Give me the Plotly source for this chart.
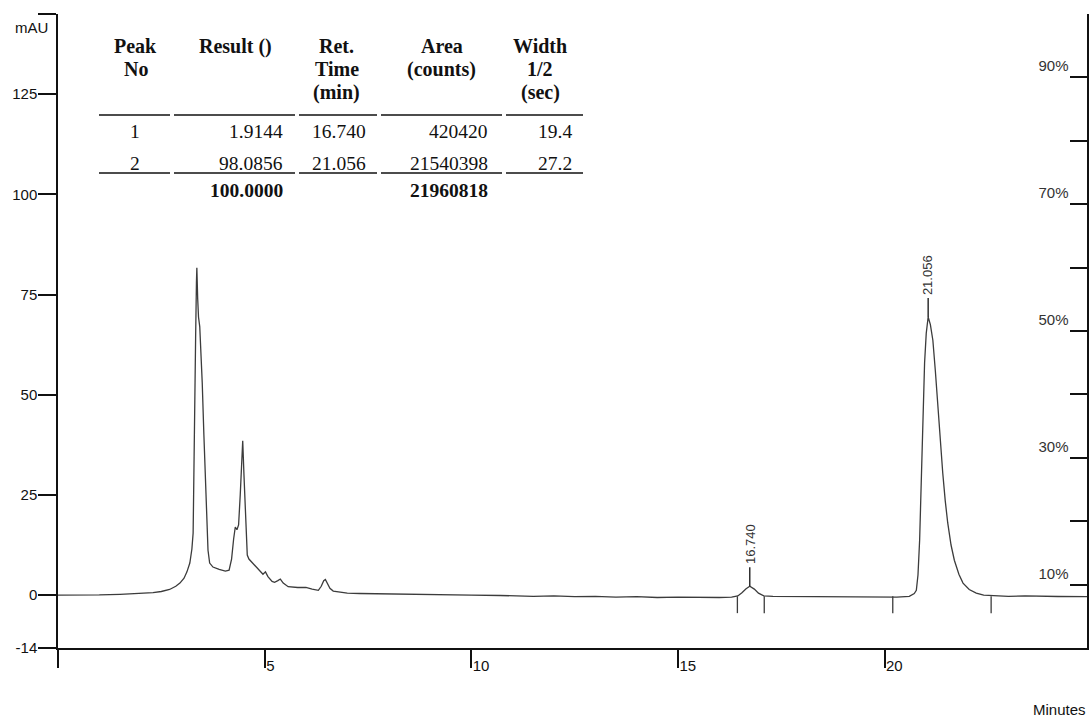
import plotly.graph_objects as go

# ---------------- data ----------------
time_min = [
    0.0, 0.5, 1.0, 1.5, 2.0, 2.3, 2.5, 2.7, 2.85, 2.95, 3.05, 3.12, 3.19, 3.24, 3.27,
    3.29, 3.31, 3.33, 3.35, 3.36, 3.38, 3.40, 3.43, 3.46, 3.49, 3.53, 3.57, 3.60, 3.63,
    3.67, 3.75, 3.9, 4.05, 4.14, 4.2, 4.25, 4.29, 4.33, 4.37, 4.41, 4.45, 4.47, 4.50,
    4.54, 4.58, 4.62, 4.75, 4.88, 4.96, 5.02, 5.08, 5.18, 5.24, 5.32, 5.38, 5.45, 5.57,
    5.8, 6.0, 6.15, 6.3, 6.37, 6.43, 6.47, 6.52, 6.58, 6.66, 6.82, 7.0, 7.3, 8.0, 9.0,
    10.0, 10.7, 11.5, 12.0, 12.5, 13.0, 13.5, 14.0, 14.5, 15.0, 15.5, 16.0, 16.3, 16.45,
    16.55, 16.65, 16.74, 16.85, 16.95, 17.08, 17.3, 17.7, 18.5, 19.5, 20.3, 20.6, 20.72,
    20.77, 20.81, 20.85, 20.89, 20.93, 20.97, 21.01, 21.056, 21.11, 21.17, 21.23, 21.29,
    21.35, 21.41, 21.47, 21.53, 21.61, 21.69, 21.80, 21.90, 22.05, 22.22, 22.4, 22.7,
    23.0, 23.4, 23.8, 24.2, 24.9,
]
signal_mau = [
    0.0, 0.0, 0.05, 0.2, 0.4, 0.6, 0.9, 1.4, 2.2, 3.0, 4.2, 5.8, 8.0, 11.5, 15.5,
    28.0, 46.0, 64.0, 78.0, 81.7, 74.0, 69.4, 67.0, 61.0, 53.0, 40.0, 28.0, 19.0, 11.2,
    8.0, 7.0, 6.4, 6.0, 6.2, 9.0, 14.0, 17.0, 16.3, 17.5, 25.0, 36.0, 38.5, 30.0,
    18.0, 10.0, 9.0, 7.5, 6.0, 5.2, 5.8, 4.6, 3.4, 3.2, 3.6, 4.0, 3.0, 2.1,
    1.9, 1.9, 1.5, 1.2, 2.2, 3.6, 3.9, 3.0, 1.7, 1.0, 0.8, 0.5, 0.4, 0.25, 0.1,
    0.0, -0.1, -0.3, -0.2, -0.4, -0.3, -0.5, -0.4, -0.6, -0.5, -0.6, -0.6, -0.5, -0.2,
    0.6, 1.6, 2.2, 1.5, 0.5, -0.2, -0.3, -0.35, -0.4, -0.5, -0.5, -0.3, 0.4,
    1.2, 5.0, 13.7, 28.0, 47.0, 58.0, 65.3, 69.4, 67.5, 63.6, 56.0, 47.0,
    38.5, 30.4, 23.5, 18.0, 12.5, 8.7, 5.2, 3.0, 1.4, 0.5, 0.0, -0.2,
    -0.3, -0.2, -0.35, -0.35, -0.4,
]

peak_rt = [16.740, 21.056]
peak_apex = [2.2, 69.4]
peak_labels = ["16.740", "21.056"]
event_times = [16.44, 17.09, 20.20, 22.58]

x_tick_vals = [0, 5, 10, 15, 20, 24.89]
x_tick_text = ["", "5", "10", "15", "20", ""]
y_tick_vals = [-13.2, 0, 25, 50, 75, 100, 125, 145]
y_tick_text = ["-14", "0", "25", "50", "75", "100", "125", ""]
pct_tick_vals = [10, 20, 30, 40, 50, 60, 70, 80, 90, 100]
pct_tick_text = ["10%", "", "30%", "", "50%", "", "70%", "", "90%", ""]

# results table
header_lines = [["Peak", "No"], ["Result ()"], ["Ret.", "Time", "(min)"],
                ["Area", "(counts)"], ["Width", "1/2", "(sec)"]]
peak_no = ["1", "2"]
result_pct = ["1.9144", "98.0856"]
ret_time = ["16.740", "21.056"]
area_counts = ["420420", "21540398"]
width_half = ["19.4", "27.2"]
total_result = "100.0000"
total_area = "21960818"

# ---------------- layout helpers ----------------
W, H = 1089, 717
PL, PR, PT, PB = 58, 1087, 14, 648


def fx(px):
    return (px - PL) / (PR - PL)


def fy(py):
    return (PB - py) / (PB - PT)


INK = "#111111"
TRACE = "#3c3c3c"

fig = go.Figure()
fig.add_trace(go.Scatter(x=time_min, y=signal_mau, mode="lines",
                         line=dict(color=TRACE, width=1.3), hoverinfo="skip",
                         showlegend=False))
fig.add_trace(go.Scatter(x=[], y=[], yaxis="y2", showlegend=False, hoverinfo="skip"))

shapes = []
annotations = []

# integration event marks
for t in event_times:
    shapes.append(dict(type="line", xref="x", yref="y", x0=t, x1=t, y0=-0.3, y1=-4.5,
                       line=dict(color=TRACE, width=1.3)))

# peak apex markers and labels
for t, h, lab in zip(peak_rt, peak_apex, peak_labels):
    shapes.append(dict(type="line", xref="x", yref="y", x0=t, x1=t,
                       ysizemode="pixel", yanchor=h, y0=0, y1=19,
                       line=dict(color=INK, width=1.3)))
    annotations.append(dict(x=t, y=h, xref="x", yref="y", text=lab, showarrow=False,
                            textangle=-90, xanchor="center", yanchor="bottom", yshift=20,
                            font=dict(family="Liberation Sans", size=13, color="#333333")))

# axis captions
annotations.append(dict(x=fx(12.5), y=fy(28), xref="paper", yref="paper", text="mAU",
                        showarrow=False, xanchor="left", yanchor="middle",
                        font=dict(family="Liberation Sans", size=15, color=INK)))
annotations.append(dict(x=fx(1088), y=fy(709), xref="paper", yref="paper", text="Minutes",
                        showarrow=False, xanchor="right", yanchor="middle",
                        font=dict(family="Liberation Sans", size=15, color=INK)))

# table
serif = "Liberation Serif"
tfs = 19.5
hfs = 20
header_cx = [135.5, 235, 336.7, 441.5, 540]
header_row_y = [46, 69, 92]
for lines, cx in zip(header_lines, header_cx):
    for k, txt in enumerate(lines):
        annotations.append(dict(x=fx(cx), y=fy(header_row_y[k]), xref="paper", yref="paper",
                                text="<b>" + txt + "</b>", showarrow=False,
                                xanchor="center", yanchor="middle",
                                font=dict(family=serif, size=hfs, color=INK)))

seg = [(99, 170), (174, 295), (299, 377), (381, 502), (506, 583)]
for ly in (115, 173):
    for a, b in seg:
        shapes.append(dict(type="line", xref="paper", yref="paper", x0=fx(a), x1=fx(b),
                           y0=fy(ly), y1=fy(ly), line=dict(color=INK, width=1.5)))

row_y = [131.7, 163.3]
col_right = [285, 367.5, 490, 574]
for i, ry in enumerate(row_y):
    annotations.append(dict(x=fx(135), y=fy(ry), xref="paper", yref="paper", text=peak_no[i],
                            showarrow=False, xanchor="center", yanchor="middle",
                            font=dict(family=serif, size=tfs, color=INK)))
    for val, rx in zip([result_pct[i], ret_time[i], area_counts[i], width_half[i]], col_right):
        annotations.append(dict(x=fx(rx), y=fy(ry), xref="paper", yref="paper", text=val,
                                showarrow=False, xanchor="right", yanchor="middle",
                                font=dict(family=serif, size=tfs, color=INK)))
for val, rx in zip([total_result, total_area], [col_right[0], col_right[2]]):
    annotations.append(dict(x=fx(rx), y=fy(190), xref="paper", yref="paper",
                            text="<b>" + val + "</b>", showarrow=False, xanchor="right",
                            yanchor="middle", font=dict(family=serif, size=tfs, color=INK)))

axis_common = dict(showgrid=False, zeroline=False, showline=True, linecolor=INK, linewidth=1.5,
                   tickcolor=INK, tickwidth=1.5)
tick_font = dict(family="Liberation Sans", size=15, color=INK)

fig.update_layout(
    width=W, height=H,
    margin=dict(l=PL, r=W - PR, t=PT, b=H - PB, pad=0),
    paper_bgcolor="white", plot_bgcolor="white",
    showlegend=False,
    xaxis=dict(range=[0, 24.9], tickmode="array", tickvals=x_tick_vals, ticktext=x_tick_text,
               ticks="outside", ticklen=18, ticklabelposition="outside right",
               ticklabelstandoff=3, tickfont=tick_font, **axis_common),
    yaxis=dict(range=[-13.2, 145], tickmode="array", tickvals=y_tick_vals, ticktext=y_tick_text,
               ticks="outside", ticklen=18, ticklabelstandoff=-2, tickfont=tick_font,
               **axis_common),
    yaxis2=dict(range=[0, 100], overlaying="y", side="right", anchor="x",
                tickmode="array", tickvals=pct_tick_vals, ticktext=pct_tick_text,
                ticks="inside", ticklen=17, ticklabelposition="inside top",
                ticklabelstandoff=18,
                tickfont=dict(family="Liberation Sans", size=15, color="#333333"),
                **axis_common),
    shapes=shapes,
    annotations=annotations,
)

fig.write_html("out.html")
